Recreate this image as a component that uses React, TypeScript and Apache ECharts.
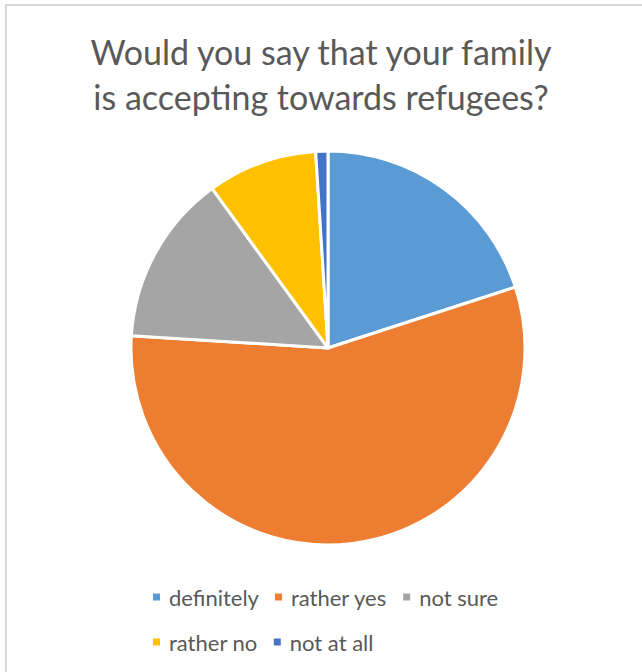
import React, { useEffect, useRef } from "react";
import * as echarts from "echarts";

const categories = ["definitely", "rather yes", "not sure", "rather no", "not at all"];
const values = [20, 56, 14, 9, 1];
const colors = ["#5B9BD5", "#ED7D31", "#A5A5A5", "#FFC000", "#4472C4"];
const titleText = "Would you say that your family\nis accepting towards refugees?";

export default function App() {
  const ref = useRef<HTMLDivElement>(null);
  useEffect(() => {
    if (!ref.current) return;
    const chart = echarts.init(ref.current, null, { renderer: "svg" });
    const font = "Lato, 'Noto Sans', sans-serif";
    const legendText = {
      fontFamily: font,
      fontSize: 22,
      color: "#595959",
      padding: [0, 0, 0, 3],
    };
    chart.setOption({
      animation: false,
      backgroundColor: "#ffffff",
      color: colors,
      title: {
        text: titleText,
        left: "center",
        top: 24,
        padding: [5, 5, 5, 15],
        textStyle: {
          fontFamily: font,
          fontSize: 34,
          fontWeight: "normal",
          color: "#595959",
          lineHeight: 45,
        },
      },
      legend: [
        {
          data: categories.slice(0, 3),
          left: 146,
          top: 581,
          icon: "rect",
          itemWidth: 9,
          itemHeight: 9,
          itemGap: 14,
          textStyle: legendText,
          selectedMode: false,
        },
        {
          data: categories.slice(3),
          left: 146,
          top: 626,
          icon: "rect",
          itemWidth: 9,
          itemHeight: 9,
          itemGap: 14,
          textStyle: legendText,
          selectedMode: false,
        },
      ],
      graphic: [
        {
          type: "rect",
          shape: { x: 6, y: 5, width: 700, height: 700 },
          style: { fill: "none", stroke: "#d9d9d9", lineWidth: 2 },
          silent: true,
        },
      ],
      series: [
        {
          type: "pie",
          center: [328, 348],
          radius: [0, 197],
          startAngle: 90,
          clockwise: true,
          label: { show: false },
          labelLine: { show: false },
          itemStyle: { borderColor: "#ffffff", borderWidth: 3 },
          emphasis: { disabled: true },
          data: categories.map((name, i) => ({ name, value: values[i] })),
        },
      ],
    });
    return () => chart.dispose();
  }, []);
  return (
    <div
      ref={ref}
      style={{ position: "absolute", left: 0, top: 0, width: 642, height: 672 }}
    />
  );
}
